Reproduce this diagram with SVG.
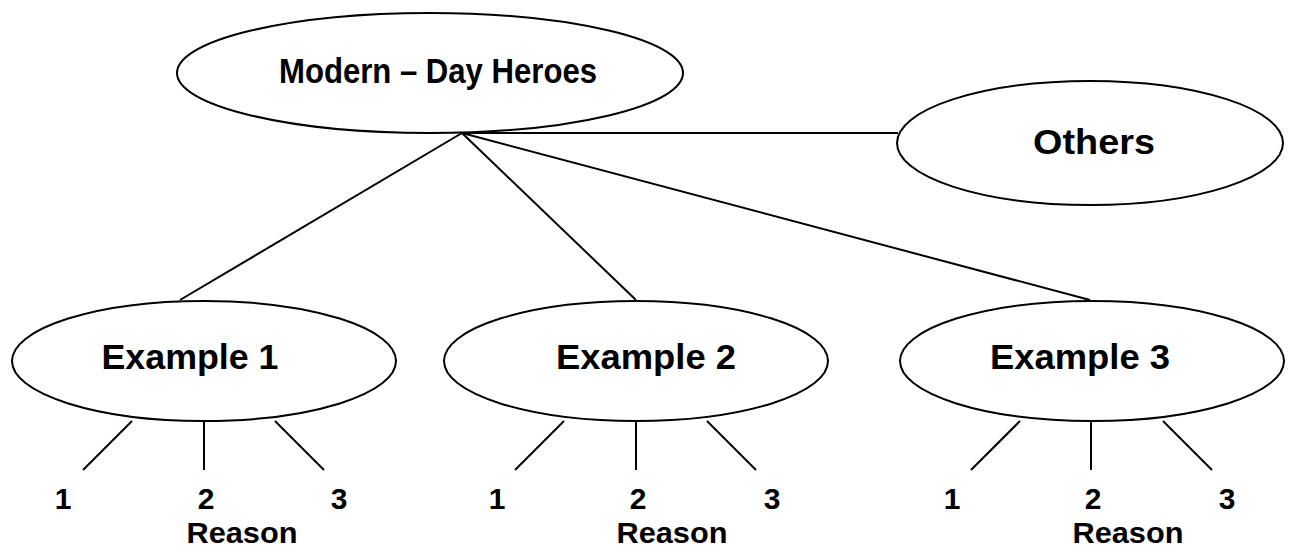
<svg xmlns="http://www.w3.org/2000/svg" width="1289" height="549" viewBox="0 0 1289 549">
<style>
.n{fill:#fff;stroke:#000;stroke-width:2}
.c line{stroke:#000;stroke-width:2}
text{font-family:"Liberation Sans",Arial,sans-serif;font-weight:bold;fill:#000;text-anchor:middle}
.t{font-size:35px}
.s{font-size:30px}
.r{font-size:29px}
</style>
<rect width="1289" height="549" fill="#fff"/>
<g class="c" id="connectors">
<line x1="462" y1="133" x2="898" y2="133"/>
<line x1="462" y1="133" x2="180" y2="300"/>
<line x1="462" y1="133" x2="636" y2="300"/>
<line x1="462" y1="133" x2="1090" y2="300"/>
<line x1="132" y1="421" x2="83" y2="470"/>
<line x1="204" y1="421" x2="204" y2="470"/>
<line x1="275" y1="421" x2="324" y2="470"/>
<line x1="564" y1="421" x2="515" y2="470"/>
<line x1="636" y1="421" x2="636" y2="470"/>
<line x1="707" y1="421" x2="756" y2="470"/>
<line x1="1020" y1="421" x2="971" y2="470"/>
<line x1="1091" y1="421" x2="1091" y2="470"/>
<line x1="1163" y1="421" x2="1212" y2="470"/>
</g>
<g id="root">
<ellipse class="n" cx="430" cy="73" rx="253" ry="60"/>
<text class="t" x="438" y="83" textLength="318" lengthAdjust="spacingAndGlyphs">Modern – Day Heroes</text>
</g>
<g id="others">
<ellipse class="n" cx="1090" cy="143" rx="193" ry="62"/>
<text class="t" x="1094" y="154" textLength="122" lengthAdjust="spacingAndGlyphs">Others</text>
</g>
<g id="example1">
<ellipse class="n" cx="204" cy="361" rx="192" ry="60"/>
<text class="t" x="190" y="369" textLength="177" lengthAdjust="spacingAndGlyphs">Example 1</text>
</g>
<g id="example2">
<ellipse class="n" cx="636" cy="361" rx="192" ry="60"/>
<text class="t" x="646" y="369" textLength="180" lengthAdjust="spacingAndGlyphs">Example 2</text>
</g>
<g id="example3">
<ellipse class="n" cx="1092" cy="361" rx="192" ry="60"/>
<text class="t" x="1080" y="369" textLength="180" lengthAdjust="spacingAndGlyphs">Example 3</text>
</g>
<g id="reasons1">
<text class="s" x="63" y="509">1</text>
<text class="s" x="206" y="509">2</text>
<text class="s" x="339" y="509">3</text>
<text class="r" x="242" y="543" textLength="111" lengthAdjust="spacingAndGlyphs">Reason</text>
</g>
<g id="reasons2">
<text class="s" x="497" y="509">1</text>
<text class="s" x="638" y="509">2</text>
<text class="s" x="772" y="509">3</text>
<text class="r" x="672" y="543" textLength="111" lengthAdjust="spacingAndGlyphs">Reason</text>
</g>
<g id="reasons3">
<text class="s" x="952" y="509">1</text>
<text class="s" x="1093" y="509">2</text>
<text class="s" x="1227" y="509">3</text>
<text class="r" x="1128" y="543" textLength="111" lengthAdjust="spacingAndGlyphs">Reason</text>
</g>
</svg>
